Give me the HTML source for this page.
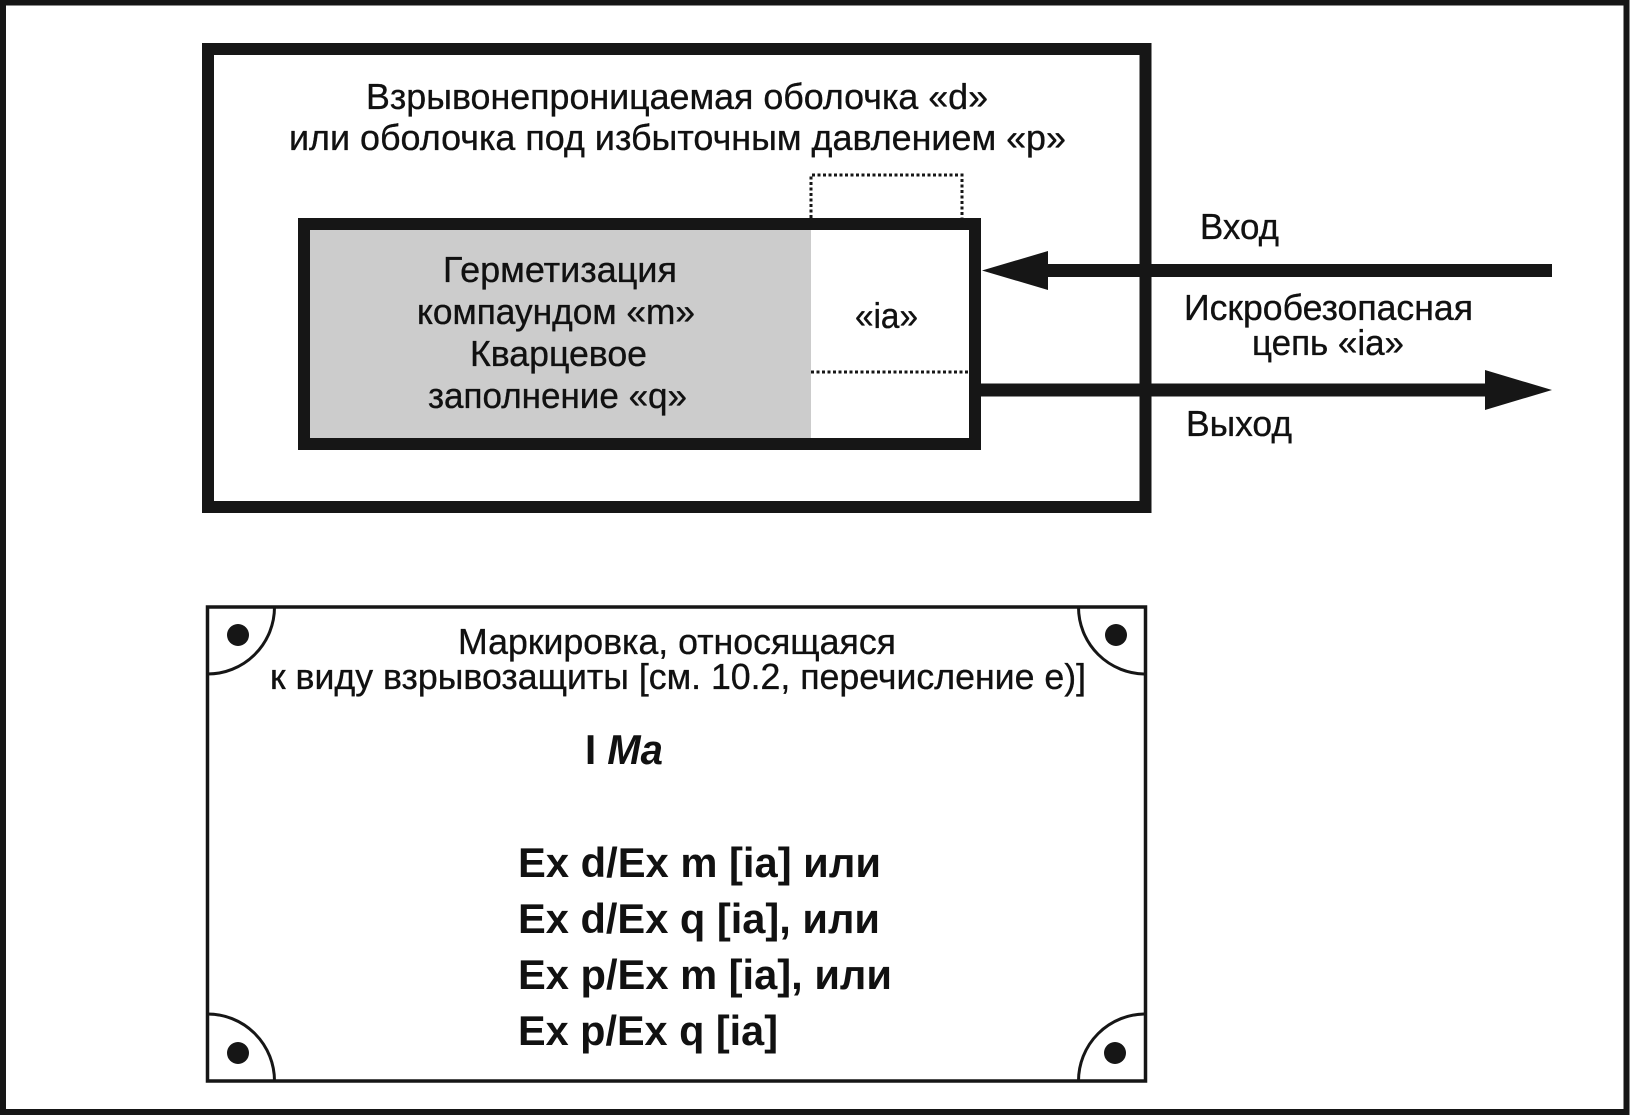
<!DOCTYPE html>
<html>
<head>
<meta charset="utf-8">
<style>
  html, body { margin: 0; padding: 0; background: #fff; }
  svg { display: block; }
  text { font-family: "Liberation Sans", "DejaVu Sans", sans-serif; fill: #111; }
  .r { font-size: 36.5px; stroke: #111; stroke-width: 0.35px; }
  .b { font-size: 42px; font-weight: bold; }
</style>
</head>
<body>
<svg width="1630" height="1115" viewBox="0 0 1630 1115" xmlns="http://www.w3.org/2000/svg">
  <rect x="0" y="0" width="1630" height="1115" fill="#fff"/>
  <!-- page border -->
  <rect x="3" y="2.5" width="1623.5" height="1109.5" fill="none" stroke="#161616" stroke-width="6"/>

  <!-- outer enclosure -->
  <rect x="208" y="49" width="937.5" height="458" fill="none" stroke="#161616" stroke-width="12"/>

  <!-- inner box gray fill -->
  <rect x="310" y="230" width="501" height="208" fill="#cccccc"/>
  <!-- inner box -->
  <rect x="304" y="224" width="671" height="220" fill="none" stroke="#161616" stroke-width="12"/>

  <!-- dotted box above -->
  <path d="M811 218 V175 H962 V218" fill="none" stroke="#161616" stroke-width="3" stroke-dasharray="3 2.5"/>
  <!-- dotted horizontal divider -->
  <line x1="811" y1="372" x2="969" y2="372" stroke="#161616" stroke-width="3" stroke-dasharray="3 2.5"/>

  <!-- input arrow -->
  <rect x="1046" y="264" width="506" height="13" fill="#161616"/>
  <polygon points="982,270.5 1048,251 1048,290" fill="#161616"/>
  <!-- output arrow -->
  <rect x="981" y="383.5" width="506" height="13" fill="#161616"/>
  <polygon points="1552,390 1485,370 1485,410" fill="#161616"/>

  <!-- top texts -->
  <text class="r" x="366" y="109" textLength="622" lengthAdjust="spacingAndGlyphs">Взрывонепроницаемая оболочка «d»</text>
  <text class="r" x="289" y="150" textLength="777" lengthAdjust="spacingAndGlyphs">или оболочка под избыточным давлением «р»</text>

  <!-- inner texts -->
  <text class="r" x="443" y="282" textLength="234" lengthAdjust="spacingAndGlyphs">Герметизация</text>
  <text class="r" x="417" y="324" textLength="278" lengthAdjust="spacingAndGlyphs">компаундом «m»</text>
  <text class="r" x="470" y="366" textLength="177" lengthAdjust="spacingAndGlyphs">Кварцевое</text>
  <text class="r" x="428" y="408" textLength="259" lengthAdjust="spacingAndGlyphs">заполнение «q»</text>
  <text class="r" x="855" y="328" textLength="63" lengthAdjust="spacingAndGlyphs">«ia»</text>

  <!-- right texts -->
  <text class="r" x="1200" y="239" textLength="79" lengthAdjust="spacingAndGlyphs">Вход</text>
  <text class="r" x="1184" y="320" textLength="289" lengthAdjust="spacingAndGlyphs">Искробезопасная</text>
  <text class="r" x="1252" y="355" textLength="152" lengthAdjust="spacingAndGlyphs">цепь «ia»</text>
  <text class="r" x="1186" y="436" textLength="106" lengthAdjust="spacingAndGlyphs">Выход</text>

  <!-- marking plate -->
  <rect x="207.5" y="607" width="938" height="474" fill="none" stroke="#161616" stroke-width="3.5"/>
  <!-- corner arcs -->
  <path d="M274.5 607 A67 67 0 0 1 207.5 674" fill="none" stroke="#161616" stroke-width="3"/>
  <path d="M1078.5 607 A67 67 0 0 0 1145.5 674" fill="none" stroke="#161616" stroke-width="3"/>
  <path d="M207.5 1014 A67 67 0 0 1 274.5 1081" fill="none" stroke="#161616" stroke-width="3"/>
  <path d="M1145.5 1014 A67 67 0 0 0 1078.5 1081" fill="none" stroke="#161616" stroke-width="3"/>
  <!-- screw dots -->
  <circle cx="238" cy="635" r="11" fill="#161616"/>
  <circle cx="1116" cy="635" r="11" fill="#161616"/>
  <circle cx="238" cy="1053" r="11" fill="#161616"/>
  <circle cx="1115" cy="1053" r="11" fill="#161616"/>

  <!-- plate texts -->
  <text class="r" x="458" y="654" textLength="438" lengthAdjust="spacingAndGlyphs">Маркировка, относящаяся</text>
  <text class="r" x="270" y="689" textLength="816" lengthAdjust="spacingAndGlyphs">к виду взрывозащиты [см. 10.2, перечисление е)]</text>

  <text class="b" x="585" y="764" textLength="78" lengthAdjust="spacingAndGlyphs">I <tspan font-style="italic">Ma</tspan></text>

  <text class="b" x="518" y="877" textLength="363" lengthAdjust="spacingAndGlyphs">Ex d/Ex m [ia] или</text>
  <text class="b" x="518" y="933" textLength="362" lengthAdjust="spacingAndGlyphs">Ex d/Ex q [ia], или</text>
  <text class="b" x="518" y="989" textLength="374" lengthAdjust="spacingAndGlyphs">Ex p/Ex m [ia], или</text>
  <text class="b" x="518" y="1045" textLength="260" lengthAdjust="spacingAndGlyphs">Ex p/Ex q [ia]</text>
</svg>
</body>
</html>
